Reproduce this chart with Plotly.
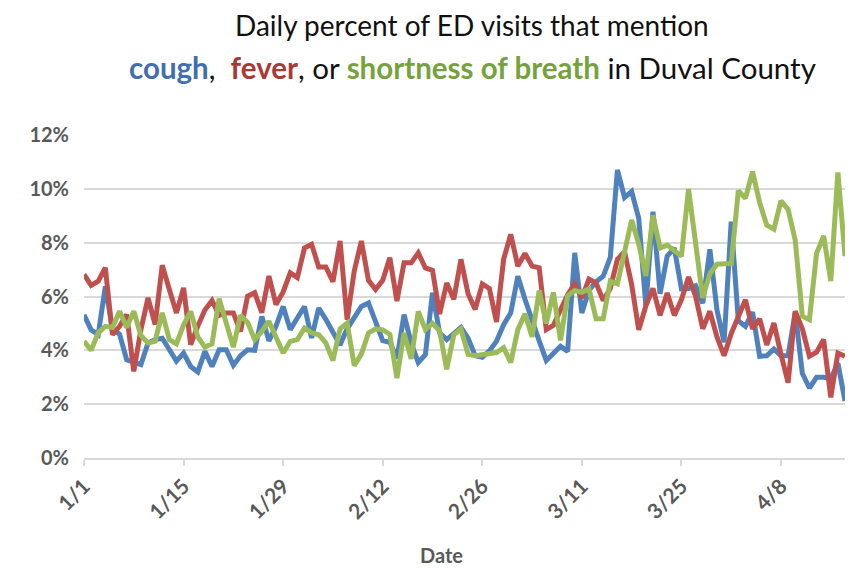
import pandas as pd
import plotly.graph_objects as go

start_date = "2020-01-01"
n_days = 108

cough = [5.32, 4.76, 4.58, 6.38, 4.8, 4.6, 3.65, 3.55, 3.47, 4.27,
         4.4, 4.45, 4.0, 3.6, 3.9, 3.4, 3.2, 3.96, 3.4, 4.02,
         4.02, 3.45, 3.8, 4.02, 4.0, 5.26, 4.35, 4.9, 5.63, 4.77,
         5.2, 5.63, 4.46, 5.57, 5.15, 4.7, 4.2, 4.8, 5.25, 5.63,
         5.76, 5.08, 4.36, 4.3, 3.7, 5.33, 4.27, 3.55, 3.84, 6.14,
         4.65, 4.40, 4.65, 4.85, 4.45, 3.8, 3.74, 3.98, 4.34, 4.95,
         5.39, 6.75, 5.9, 5.05, 4.35, 3.62, 3.9, 4.15, 3.96, 7.62,
         5.39, 6.23, 6.55, 6.75, 7.45, 10.7, 9.68, 9.9, 8.9, 5.65,
         9.15, 6.1, 7.5, 7.8, 6.28, 6.3, 6.4, 5.75, 7.75, 5.5,
         4.3, 8.78, 5.1, 4.89, 5.42, 3.78, 3.8, 4.05, 3.8, 3.8,
         5.42, 3.15, 2.6, 3.0, 3.0, 2.95, 3.52, 2.12]

fever = [6.82, 6.41, 6.57, 7.07, 4.58, 4.89, 5.33, 3.22, 4.77, 5.95,
         4.96, 7.16, 6.26, 5.39, 6.32, 4.21, 4.9, 5.5, 5.85, 5.3,
         5.39, 5.39, 4.7, 6.01, 6.14, 5.4, 6.76, 5.7, 6.17, 6.88,
         6.7, 7.8, 7.94, 7.1, 7.1, 6.55, 8.06, 5.14, 6.95, 8.06,
         6.6, 6.26, 6.6, 7.44, 5.83, 7.25, 7.25, 7.62, 7.06, 6.97,
         5.35, 6.5, 5.9, 7.38, 6.1, 5.52, 6.47, 6.3, 5.05, 7.38,
         8.31, 7.13, 7.6, 7.13, 7.07, 4.77, 4.93, 5.55, 6.07, 6.47,
         5.95, 6.65, 6.5, 5.85, 6.3, 7.38, 7.66, 6.45, 4.76, 5.65,
         6.3, 5.3, 6.13, 5.3, 5.88, 6.72, 6.0, 4.8, 5.45, 4.5,
         3.8, 4.62, 5.28, 5.88, 4.8, 5.17, 4.2, 5.01, 3.85, 2.8,
         5.45, 4.8, 3.78, 3.93, 4.4, 2.25, 3.9, 3.78]

breath = [4.34, 4.0, 4.65, 4.89, 4.85, 5.45, 4.85, 5.45, 4.55, 4.27,
          4.34, 5.39, 4.4, 4.24, 4.95, 5.45, 4.5, 4.12, 4.24, 5.92,
          5.01, 4.12, 5.3, 5.04, 4.4, 4.7, 5.08, 4.45, 3.9, 4.33,
          4.4, 4.83, 4.65, 4.58, 4.28, 3.62, 4.8, 5.01, 3.43, 3.86,
          4.65, 4.8, 4.76, 4.6, 2.97, 4.65, 3.68, 5.45, 4.77, 5.0,
          4.73, 3.3, 4.58, 4.8, 3.85, 3.8, 3.85, 3.9, 3.92, 4.1,
          3.55, 4.77, 5.36, 4.5, 6.22, 5.0, 6.15, 4.37, 6.03, 6.22,
          6.15, 6.28, 5.17, 5.17, 6.57, 6.47, 7.6, 8.84, 7.95, 6.76,
          9.02, 7.8, 7.91, 7.72, 7.5, 9.99, 7.9, 5.95, 6.85, 7.2,
          7.22, 7.22, 9.93, 9.65, 10.64, 9.49, 8.65, 8.5, 9.55, 9.24,
          8.09, 5.27, 5.14, 7.6, 8.25, 6.57, 10.61, 7.5]

tick_dates = ["2020-01-01", "2020-01-15", "2020-01-29", "2020-02-12",
              "2020-02-26", "2020-03-11", "2020-03-25", "2020-04-08"]
tick_labels = ["1/1", "1/15", "1/29", "2/12", "2/26", "3/11", "3/25", "4/8"]
y_ticks = [0, 2, 4, 6, 8, 10, 12]
y_labels = ["0%", "2%", "4%", "6%", "8%", "10%", "12%"]

dates = pd.date_range(start_date, periods=n_days, freq="D")

BLUE = "#4F81BD"
RED = "#C0504D"
GREEN = "#9BBB59"
GRID = "#D9D9D9"
TXT = "#595959"
FONT = "Lato"

fig = go.Figure()
for name, vals, col in [("cough", cough, BLUE), ("fever", fever, RED),
                        ("shortness of breath", breath, GREEN)]:
    fig.add_trace(go.Scatter(x=dates, y=vals, mode="lines", name=name,
                             line=dict(color=col, width=5)))

L, R, T, B = 84, 7, 135, 112
W, H = 852, 570
pw, ph = W - L - R, H - T - B

def px_x(p):
    return (p - L) / pw

def px_y(p):
    return (H - B - p) / ph

fig.update_layout(
    width=W, height=H,
    margin=dict(l=L, r=R, t=T, b=B, autoexpand=False),
    paper_bgcolor="white", plot_bgcolor="white",
    showlegend=False,
    font=dict(family=FONT, color=TXT),
    xaxis=dict(type="date", range=[dates[0], dates[-1]],
               tickvals=tick_dates, ticktext=tick_labels,
               tickangle=-45, ticks="outside", ticklen=6, tickcolor=GRID,
               tickwidth=1.5, showgrid=False, zeroline=False,
               showline=True, linecolor=GRID, linewidth=1.5,
               tickfont=dict(size=21, color=TXT, family=FONT, weight="bold")),
    yaxis=dict(range=[0, 12], tickvals=y_ticks, ticktext=y_labels,
               showgrid=True, gridcolor=GRID, gridwidth=1.5,
               zeroline=False, showline=False, ticklabelstandoff=14,
               tickfont=dict(size=20, color=TXT, family=FONT, weight="bold")),
)

fig.add_annotation(xref="paper", yref="paper", x=px_x(472), y=px_y(25),
                   text="Daily percent of ED visits that mention",
                   showarrow=False, xanchor="center", yanchor="middle",
                   font=dict(size=28, color="#111111", family=FONT))
fig.add_annotation(xref="paper", yref="paper", x=px_x(472), y=px_y(67),
                   text=("<b><span style='color:#3F6FAE'>cough</span></b>,  "
                         "<b><span style='color:#A83A36'>fever</span></b>, or "
                         "<b><span style='color:#76A23D'>shortness of breath</span></b>"
                         " in Duval County"),
                   showarrow=False, xanchor="center", yanchor="middle",
                   font=dict(size=29.5, color="#111111", family=FONT))
fig.add_annotation(xref="paper", yref="paper", x=px_x(441), y=px_y(555),
                   text="<b>Date</b>", showarrow=False,
                   xanchor="center", yanchor="middle",
                   font=dict(size=20, color=TXT, family=FONT))

fig.write_html("out.html", config={"displayModeBar": False},
               post_script="document.body.style.margin='0';document.body.style.overflow='hidden';")
